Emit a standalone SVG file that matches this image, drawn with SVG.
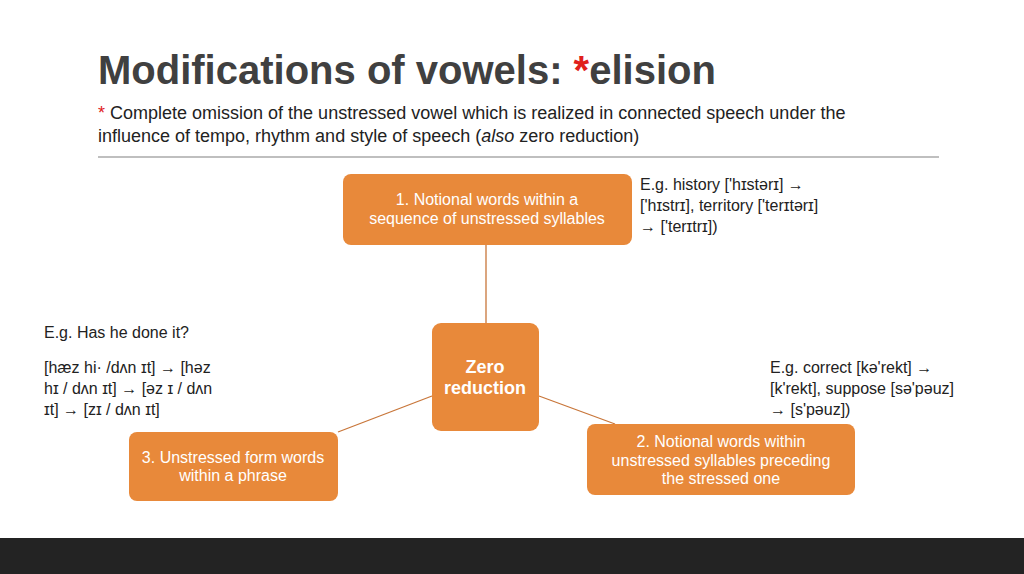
<svg xmlns="http://www.w3.org/2000/svg" width="1024" height="574" viewBox="0 0 1024 574">
<style>
text{font-family:"Liberation Sans",Arial,sans-serif;fill:#222}
.box{fill:#e8893a}
.bt{fill:#fff;font-size:16px;text-anchor:middle}
.t{font-size:16px}
.ln{stroke:#c8763a;stroke-width:1.3;fill:none}
</style>
<rect width="1024" height="574" fill="#fff"/>
<text x="98" y="84" style="font-size:40px;font-weight:bold;fill:#404040">Modifications of vowels: <tspan fill="#e0201b">*</tspan>elision</text>
<text x="98" y="119" style="font-size:18px"><tspan fill="#e0201b">*</tspan> Complete omission of the unstressed vowel which is realized in connected speech under the</text>
<text x="98" y="142" style="font-size:18px">influence of tempo, rhythm and style of speech (<tspan font-style="italic">also</tspan> zero reduction)</text>
<line x1="98" y1="157" x2="939" y2="157" stroke="#808080" stroke-width="1.2"/>
<g id="connectors">
<line class="ln" x1="486" y1="245" x2="486" y2="323"/>
<line class="ln" x1="539" y1="396" x2="615" y2="424"/>
<line class="ln" x1="432" y1="396" x2="338" y2="432"/>
</g>
<g id="n1"><rect class="box" x="343" y="174" width="289" height="71" rx="8"/>
<text class="bt" x="487" y="205">1. Notional words within a</text>
<text class="bt" x="487" y="224">sequence of unstressed syllables</text></g>
<g id="n0"><rect class="box" x="432" y="323" width="107" height="108" rx="9"/>
<text class="bt" x="485" y="373" style="font-size:18px;font-weight:bold">Zero</text>
<text class="bt" x="485" y="394" style="font-size:18px;font-weight:bold">reduction</text></g>
<g id="n2"><rect class="box" x="587" y="424" width="268" height="71" rx="8"/>
<text class="bt" x="721" y="447">2. Notional words within</text>
<text class="bt" x="721" y="466">unstressed syllables preceding</text>
<text class="bt" x="721" y="484">the stressed one</text></g>
<g id="n3"><rect class="box" x="129" y="432" width="209" height="69" rx="8"/>
<text class="bt" x="233" y="463">3. Unstressed form words</text>
<text class="bt" x="233" y="481">within a phrase</text></g>
<g id="notes">
<text class="t" x="640" y="190">E.g.  history ['hɪstərɪ] →</text>
<text class="t" x="640" y="211">['hɪstrɪ], territory ['terɪtərɪ]</text>
<text class="t" x="640" y="232">→ ['terɪtrɪ])</text>
<text class="t" x="44" y="338">E.g. Has he done it?</text>
<text class="t" x="44" y="373">[hæz  hi·  /dʌn  ɪt]  →  [həz</text>
<text class="t" x="44" y="394">hɪ  /  dʌn  ɪt]  →  [əz  ɪ  /  dʌn</text>
<text class="t" x="44" y="415">ɪt] → [zɪ / dʌn ɪt]</text>
<text class="t" x="770" y="373">E.g.   correct   [kə'rekt]   →</text>
<text class="t" x="770" y="394">[k'rekt],  suppose  [sə'pəuz]</text>
<text class="t" x="770" y="415">→ [s'pəuz])</text>
</g>
<rect x="0" y="538" width="1024" height="36" fill="#232323"/>
</svg>
